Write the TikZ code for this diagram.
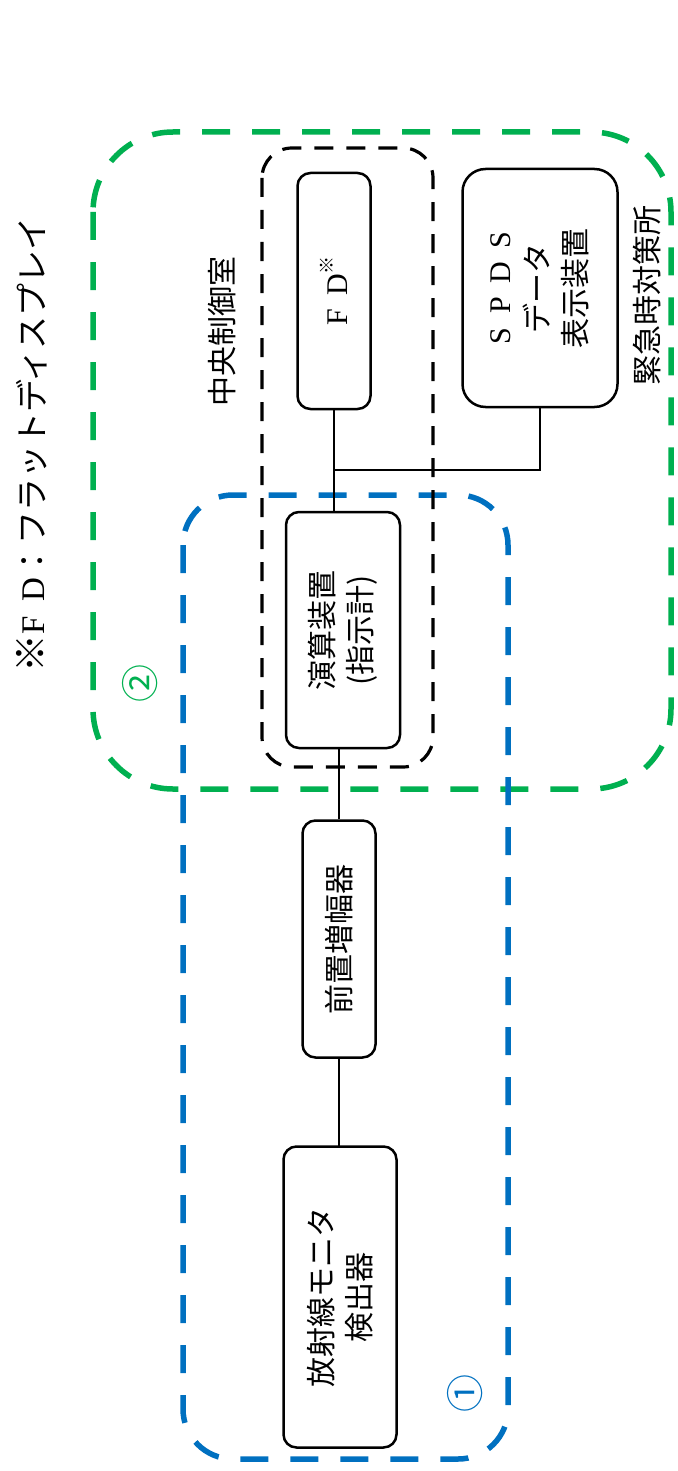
\documentclass[tikz,border=0pt]{standalone}
\usepackage{fontspec}
\setmainfont{Noto Sans CJK JP}
\newfontfamily\latserif{Liberation Serif}
\usepackage{xcolor}
\usepackage{tikz}
\definecolor{trgreen}{HTML}{00B050}
\definecolor{trblue}{HTML}{0070C0}
\tikzset{
  unitbox/.style={draw=black, line width=2.5pt, rounded corners=13pt, fill=white,
    rotate=90, align=center, inner sep=0pt, font=\fontsize{30}{38}\selectfont},
  wire/.style={line width=2.5pt, draw=black},
  roombox/.style={draw=black, line width=3.2pt, dash pattern=on 19pt off 13pt, rounded corners=30pt},
  sitebox/.style={draw=trgreen, line width=5.5pt, dash pattern=on 28pt off 22pt, rounded corners=80pt},
  scopebox/.style={draw=trblue, line width=5.5pt, dash pattern=on 28pt off 22pt, rounded corners=50pt},
  roomlabel/.style={rotate=90, inner sep=0pt, font=\fontsize{30}{38}\selectfont},
  numlabel/.style={rotate=90, inner sep=0pt, font=\fontsize{38}{38}\selectfont}
}

\begin{document}
\begin{tikzpicture}[x=1pt, y=-1pt]
        \useasboundingbox (0,0) rectangle (677,1471);
        % regions
        \draw[sitebox] (93,132) rectangle (671,789);
        \draw[scopebox] (183,495) rectangle (508,1459);
        \draw[roombox] (262,148) rectangle (433,767);
        % units
        \node[unitbox, minimum width=301pt, minimum height=113pt] (det) at (340,1297) {放射線モニタ\\検出器};
        \node[unitbox, minimum width=237pt, minimum height=73pt] (pre) at (339,939) {前置増幅器};
        \node[unitbox, minimum width=236pt, minimum height=114pt] (calc) at (343,630) {演算装置\\(指示計)};
        \node[unitbox, minimum width=236pt, minimum height=73pt] (fd) at (334,291)
          {{\latserif F\hspace{.45em}D}\raisebox{.45em}{\fontsize{18}{18}\selectfont ※}};
        \node[unitbox, rounded corners=23pt, minimum width=238pt, minimum height=155pt] (spds) at (540,288)
          {{\latserif S\hspace{.45em}P\hspace{.45em}D\hspace{.45em}S}\\データ\\表示装置};
        \coordinate (jn) at (334,470);
        \draw[wire] (det.east) -- (det.east -| pre.west) -- (pre.west);
        \draw[wire] (pre.east) -- (pre.east |- calc.west);
        \draw[wire] (fd.west) -- (jn) -- (jn |- calc.east);
        \draw[wire] (spds.west) |- (jn);
        % labels
        \node[roomlabel] (mcr) at (222,331) {中央制御室};
        \node[roomlabel] (tsc) at (647,295) {緊急時対策所};
        \node[numlabel, text=trblue] (n1) at (465,1393) {①};
        \node[numlabel, text=trgreen] (n2) at (140,683) {②};
        \node[roomlabel, font=\fontsize{33}{33}\selectfont] (fdnote) at (32,445)
          {{\fontsize{38}{38}\selectfont ※}{\latserif F\hspace{.45em}D}：フラットディスプレイ};
\end{tikzpicture}
\end{document}
